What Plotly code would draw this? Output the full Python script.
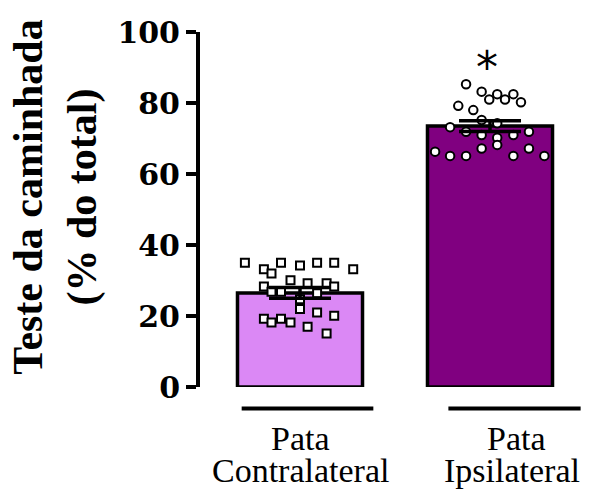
import plotly.graph_objects as go

# ---- data ----
categories = ["Pata Contralateral", "Pata Ipsilateral"]
means = [26.5, 73.5]
sems = [1.5, 1.5]
bar_colors = ["#DB88F5", "#800080"]

contra_values = [35.0, 33.2, 32.0, 35.0, 34.2, 35.0, 35.0, 33.2, 30.1, 28.3, 29.2, 29.2, 28.3,
                 26.8, 26.8, 26.4, 24.7, 22.0, 21.0, 20.1, 19.2, 18.2, 19.2, 18.2, 17.0, 15.1]
contra_jitter = [-0.29, -0.19, -0.15, -0.10, 0.00, 0.09, 0.18, 0.28, -0.05, -0.19, 0.04, 0.14, 0.18,
                 -0.15, -0.10, 0.09, 0.00, 0.00, 0.09, 0.18, -0.19, -0.15, -0.10, -0.05, 0.04, 0.14]

ipsi_values = [85.3, 83.2, 81.0, 82.5, 81.0, 82.5, 80.2, 79.2, 78.0, 75.2, 74.3, 73.2, 71.9,
               71.0, 70.2, 71.0, 71.9, 68.2, 67.2, 67.2, 66.3, 65.1, 65.1, 65.1, 65.1]
ipsi_jitter = [-0.126, -0.044, -0.004, 0.038, 0.079, 0.123, 0.163, -0.167, -0.088, -0.044, 0.038, -0.21, -0.126,
               -0.044, 0.038, 0.123, 0.205, 0.038, -0.044, 0.205, -0.289, -0.21, -0.126, 0.123, 0.286]

y_ticks = [0, 20, 40, 60, 80, 100]
y_title_lines = ["Teste da caminhada", "(% do total)"]
significance = "*"

xpos = [0, 1]

fig = go.Figure()

fig.add_trace(go.Bar(
    x=xpos, y=means, width=0.658,
    marker=dict(color=bar_colors, line=dict(color="black", width=3.5)),
    showlegend=False, hoverinfo="skip"))

fig.add_trace(go.Scatter(
    x=[xpos[0] + j for j in contra_jitter], y=contra_values, mode="markers",
    marker=dict(symbol="square", size=8, color="white", line=dict(color="black", width=2)),
    showlegend=False))

fig.add_trace(go.Scatter(
    x=[xpos[1] + j for j in ipsi_jitter], y=ipsi_values, mode="markers",
    marker=dict(symbol="circle", size=8.5, color="white", line=dict(color="black", width=2)),
    showlegend=False))

fig.add_trace(go.Scatter(
    x=xpos, y=means, mode="markers",
    marker=dict(size=0.1, color="rgba(0,0,0,0)"),
    error_y=dict(type="data", array=sems, visible=True, color="black", thickness=3.5, width=31),
    showlegend=False, hoverinfo="skip"))

fig.update_layout(
    width=590, height=491,
    margin=dict(l=200, r=0, t=32, b=104),
    plot_bgcolor="white", paper_bgcolor="white",
    xaxis=dict(range=[-0.5263, 1.5263], visible=False),
    yaxis=dict(range=[0, 100], tickvals=y_ticks, showgrid=False, zeroline=False,
               showline=True, linecolor="black", linewidth=4,
               ticks="outside", ticklen=10, tickwidth=4, tickcolor="black",
               tickfont=dict(family="DejaVu Serif", size=30, color="black", weight="bold")),
    font=dict(family="Liberation Serif", color="black"),
)

# y-axis title
fig.add_annotation(
    text="<br>".join(y_title_lines), textangle=-90, xref="paper", yref="paper",
    x=-0.37, y=0.535, xanchor="center", yanchor="middle", showarrow=False,
    font=dict(family="Liberation Serif", size=42, color="black", weight="bold"))

# category labels and group lines
label_x = [(0.0, 0.0), (1.137, 1.115)]
line_spans = [(-0.307, 0.386), (0.781, 1.477)]
for cat, (lx1, lx2), (x0, x1) in zip(categories, label_x, line_spans):
    first, second = cat.split(" ", 1)
    fig.add_annotation(text=first, xref="x", yref="paper", x=lx1, y=-0.145,
                       xanchor="center", yanchor="middle", showarrow=False,
                       font=dict(family="Liberation Serif", size=34, color="black"))
    fig.add_annotation(text=second, xref="x", yref="paper", x=lx2, y=-0.235,
                       xanchor="center", yanchor="middle", showarrow=False,
                       font=dict(family="Liberation Serif", size=34, color="black"))
    fig.add_shape(type="line", xref="x", yref="paper", x0=x0, x1=x1, y0=-0.0606, y1=-0.0606,
                  line=dict(color="black", width=4))

# significance asterisk
fig.add_annotation(text=significance, xref="x", yref="y", x=0.983, y=90.0,
                   xanchor="center", yanchor="middle", showarrow=False,
                   font=dict(family="DejaVu Sans", size=44, color="black"))

fig.write_html("out.html", config={"displayModeBar": False},
               post_script="document.body.style.margin='0';document.body.style.overflow='hidden';")
